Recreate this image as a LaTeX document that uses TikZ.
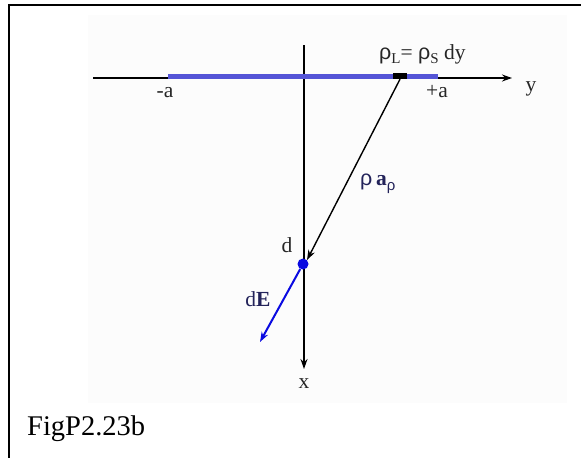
\documentclass[tikz,border=0pt]{standalone}
\usepackage{fontspec}
\setmainfont{Liberation Serif}
\newfontfamily\rhofont{Liberation Sans}
\usetikzlibrary{arrows.meta}
\definecolor{chargeblue}{RGB}{85,85,215}
\definecolor{dotblue}{RGB}{10,10,225}
\definecolor{navytext}{RGB}{35,35,90}
\definecolor{bgshade}{RGB}{252,252,252}
\newcommand{\rh}{{\rhofont ρ}}
\begin{document}
\begin{tikzpicture}[x=1pt,y=-1pt,
  axis/.style={line width=1.6pt,black},
  lbl/.style={font=\fontsize{21.5}{23}\selectfont,inner sep=0pt,text=black!85},
  tipk/.style={-{Stealth[length=10pt,width=7pt]}}]
\useasboundingbox (0,0) rectangle (581,458);
\fill[white] (0,0) rectangle (581,458);
\fill[bgshade] (88,15) rectangle (567,403);
% frame
\draw[line width=2pt] (581,5) -- (9,5) -- (9,458);
% coordinates
\coordinate (yl) at (93,78);
\coordinate (yr) at (512,78);
\coordinate (xt) at (304,45);
\coordinate (xb) at (304,369);
\coordinate (cl) at (168,76.5);
\coordinate (cr) at (438,76.5);
\coordinate (dEtip) at (260,342);
% axes
\draw[axis,tipk] (yl) -- (yr);
\draw[axis,tipk] (xt) -- (xb);
% line charge
\draw[chargeblue,line width=5pt] (cl) -- (cr);
\node[fill=black,minimum width=14pt,minimum height=6pt,inner sep=0pt] (el) at (400,76) {};
% point d
\node[circle,fill=dotblue,minimum size=11pt,inner sep=0pt] (pd) at (303,264) {};
% arrows
\draw[line width=1.4pt,tipk] (el.south) -- (pd.north east);
\draw[dotblue,line width=2pt,-{Stealth[length=10pt,width=7pt]}] (pd) -- (dEtip);
% labels
\node[lbl,anchor=base west] (rhoL) at (379,59) {\rh\raisebox{-4pt}{\fontsize{15}{15}\selectfont L}= \rh\raisebox{-4pt}{\fontsize{15}{15}\selectfont S} dy};
\node[lbl,anchor=base] (ma) at (165,97) {-a};
\node[lbl,anchor=base] (pa) at (437,97) {+a};
\node[lbl,anchor=base] (ylab) at (531,91) {y};
\node[lbl,anchor=base west,text=navytext] (rar) at (360,185) {\rh\,\textbf{a}\raisebox{-5pt}{\fontsize{15}{15}\selectfont\rh}};
\node[lbl,anchor=base] (dlab) at (287,252) {d};
\node[lbl,anchor=base,text=navytext] (dE) at (258,306) {d\textbf{E}};
\node[lbl,anchor=base] (xlab) at (304,388) {x};
\node[font=\fontsize{28.5}{30}\selectfont,anchor=base west,inner sep=0pt] (cap) at (27,435) {FigP2.23b};
\end{tikzpicture}
\end{document}
